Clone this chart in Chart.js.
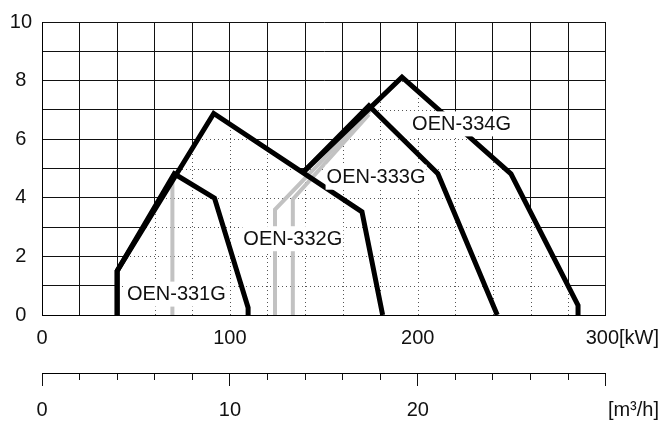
<!DOCTYPE html>
<html>
<head>
<meta charset="utf-8">
<script src="https://cdn.jsdelivr.net/npm/chart.js@4/dist/chart.umd.min.js"></script>
<style>
  html, body { margin: 0; padding: 0; background: #fff; }
  canvas { display: block; }
</style>
</head>
<body>
<canvas id="chart" width="671" height="421"></canvas>
<script>
// envelope outlines, x in kW, y on the left scale
const oen331gKw = [40, 40, 70.4, 91.8, 109.7, 109.7];
const oen331gY  = [0, 1.5, 4.82, 3.99, 0.25, 0];
const oen332gKw = [40, 40, 91.4, 170.3, 181.3];
const oen332gY  = [0, 1.5, 6.88, 3.52, 0];
const oen333gKw = [139, 174, 210.7, 242.3];
const oen333gY  = [4.87, 7.14, 4.82, 0];
const oen334gKw = [139, 191.6, 249.6, 285.3, 285.3];
const oen334gY  = [4.87, 8.12, 4.82, 0.33, 0];

// grey hatched guide lines
const guideAKw = [69.4, 69.4];
const guideAY  = [0, 4.6];
const guideBKw = [124, 124, 175];
const guideBY  = [0, 3.6, 7.0];
const guideCKw = [133.5, 133.5, 174];
const guideCY  = [0, 3.95, 6.85];

// model labels and where they sit (data units)
const modelNames = ['OEN-331G', 'OEN-332G', 'OEN-333G', 'OEN-334G'];
const modelLabelKw = [71.5, 133.5, 177.8, 223.3];
const modelLabelY  = [0.73, 2.62, 4.72, 6.54];

// axes
const yLabelValues = [0, 2, 4, 6, 8, 10];
const kwLabelValues = [0, 100, 200, 300];
const flowLabelValues = [0, 10, 20, 30];

const FONT = "'Liberation Sans', Arial, sans-serif";
Chart.defaults.font.family = FONT;
Chart.defaults.font.size = 20;
Chart.defaults.color = '#111';

function pts(xs, ys) {
    return xs.map((v, i) => ({ x: v, y: ys[i] }));
}

function envelope(label, xs, ys) {
    return {
        label: label,
        data: pts(xs, ys),
        envelope: true,
        borderColor: '#000',
        borderWidth: 5,
        borderJoinStyle: 'miter',
        borderCapStyle: 'butt',
        pointRadius: 0,
        tension: 0,
        fill: false,
        order: 1
    };
}

function guide(xs, ys) {
    return {
        data: pts(xs, ys),
        borderColor: '#c2c2c2',
        borderWidth: 4,
        borderJoinStyle: 'miter',
        pointRadius: 0,
        tension: 0,
        fill: false,
        order: 2
    };
}

// grid is solid outside the envelopes and dotted inside them
const insideGrid = {
    id: 'insideGrid',
    beforeDatasetsDraw(chart) {
        const { ctx, chartArea, scales: { x, y } } = chart;
        const base = y.getPixelForValue(0);
        ctx.save();
        ctx.beginPath();
        chart.data.datasets.forEach((ds, i) => {
            if (!ds.envelope) return;
            const p = chart.getDatasetMeta(i).data;
            ctx.moveTo(p[0].x, base);
            p.forEach(pt => ctx.lineTo(pt.x, pt.y));
            ctx.lineTo(p[p.length - 1].x, base);
            ctx.closePath();
        });
        ctx.clip();
        ctx.fillStyle = '#fff';
        ctx.fillRect(chartArea.left, chartArea.top, chartArea.width, chartArea.height);
        ctx.strokeStyle = '#555';
        ctx.lineWidth = 1;
        ctx.setLineDash([1, 3]);
        ctx.beginPath();
        x.ticks.forEach(t => {
            const px = Math.round(x.getPixelForValue(t.value)) + 0.5;
            ctx.moveTo(px, chartArea.top);
            ctx.lineTo(px, chartArea.bottom);
        });
        y.ticks.forEach(t => {
            const py = Math.round(y.getPixelForValue(t.value)) + 0.5;
            ctx.moveTo(chartArea.left, py);
            ctx.lineTo(chartArea.right, py);
        });
        ctx.stroke();
        ctx.restore();
    }
};

const modelLabels = {
    id: 'modelLabels',
    afterDatasetsDraw(chart) {
        const { ctx, scales: { x, y } } = chart;
        ctx.save();
        ctx.font = '20px ' + FONT;
        ctx.textAlign = 'center';
        ctx.textBaseline = 'middle';
        modelNames.forEach((name, i) => {
            const cx = x.getPixelForValue(modelLabelKw[i]);
            const cy = y.getPixelForValue(modelLabelY[i]);
            const w = ctx.measureText(name).width + 2;
            ctx.fillStyle = '#fff';
            ctx.fillRect(cx - w / 2, cy - 12, w, 25);
            ctx.fillStyle = '#111';
            ctx.fillText(name, cx, cy + 1);
        });
        ctx.restore();
    }
};

new Chart(document.getElementById('chart'), {
    type: 'line',
    data: {
        datasets: [
            envelope('OEN-331G', oen331gKw, oen331gY),
            envelope('OEN-332G', oen332gKw, oen332gY),
            envelope('OEN-333G', oen333gKw, oen333gY),
            envelope('OEN-334G', oen334gKw, oen334gY),
            guide(guideAKw, guideAY),
            guide(guideBKw, guideBY),
            guide(guideCKw, guideCY)
        ]
    },
    options: {
        responsive: false,
        animation: false,
        devicePixelRatio: 1,
        layout: { padding: { top: 14, right: 58, bottom: 0, left: 0 } },
        plugins: {
            legend: { display: false },
            tooltip: { enabled: false }
        },
        scales: {
            x: {
                type: 'linear',
                position: 'bottom',
                min: 0,
                max: 300,
                afterFit(scale) { scale.height = 58; },
                grid: { color: '#111', lineWidth: 1, drawTicks: false },
                border: { color: '#000' },
                ticks: {
                    stepSize: 20,
                    autoSkip: false,
                    maxRotation: 0,
                    padding: 11,
                    callback: v => {
                        if (!kwLabelValues.includes(v)) return '';
                        return v === 300 ? '      300[kW]' : String(v);
                    }
                }
            },
            x2: {
                type: 'linear',
                position: 'bottom',
                display: true,
                min: 0,
                max: 30,
                afterFit(scale) { scale.height = 48; },
                grid: {
                    drawOnChartArea: false,
                    drawTicks: true,
                    tickLength: 13,
                    tickColor: '#111',
                    tickWidth: 1,
                    tickBorderDash: c => (c.tick && c.tick.value % 10 === 0) ? [] : [6, 20]
                },
                border: { color: '#000', width: 1 },
                ticks: {
                    stepSize: 2,
                    autoSkip: false,
                    maxRotation: 0,
                    padding: 12,
                    callback: v => {
                        if (!flowLabelValues.includes(v)) return '';
                        return v === 30 ? '          [m³/h]' : String(v);
                    }
                }
            },
            y: {
                min: 0,
                max: 10,
                afterFit(scale) { scale.width = 42; },
                grid: { color: '#111', lineWidth: 1, drawTicks: false },
                border: { color: '#000' },
                ticks: {
                    stepSize: 1,
                    autoSkip: false,
                    crossAlign: 'center',
                    padding: 10,
                    callback: v => yLabelValues.includes(v) ? String(v) : ''
                }
            }
        }
    },
    plugins: [insideGrid, modelLabels]
});
</script>
</body>
</html>
